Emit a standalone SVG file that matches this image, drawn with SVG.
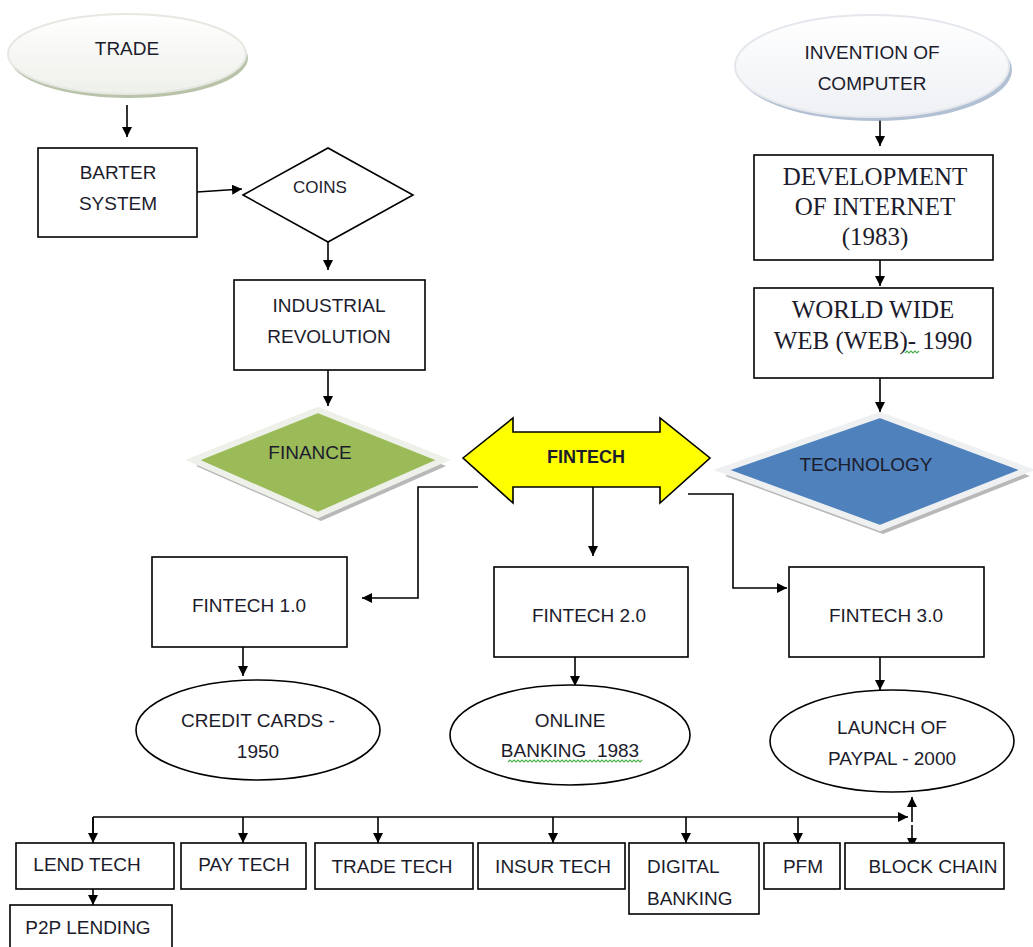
<svg xmlns="http://www.w3.org/2000/svg" width="1033" height="947" viewBox="0 0 1033 947">
<defs>
<marker id="ah" viewBox="0 0 10 10" refX="10" refY="5" markerWidth="10" markerHeight="10" markerUnits="userSpaceOnUse" orient="auto"><path d="M0,0 L10,5 L0,10 z" fill="#000"/></marker>
<linearGradient id="gTrade" x1="0" y1="0" x2="0" y2="1"><stop offset="0" stop-color="#ffffff"/><stop offset="1" stop-color="#eef0ea"/></linearGradient>
<linearGradient id="gComp" x1="0" y1="0" x2="0" y2="1"><stop offset="0" stop-color="#ffffff"/><stop offset="1" stop-color="#eef0f4"/></linearGradient>
</defs>
<style>
.t{font-family:"Liberation Sans",Arial,sans-serif;font-size:19px;fill:#1c1c2c;text-anchor:middle}
.s{font-family:"Liberation Serif","Times New Roman",serif;font-size:25px;fill:#1c1c2c;text-anchor:middle}
.b{fill:#fff;stroke:#000;stroke-width:1.6}
.c{fill:none;stroke:#000;stroke-width:1.6;marker-end:url(#ah)}
.l{fill:none;stroke:#000;stroke-width:1.6}
.sq{fill:none;stroke:#4caf50;stroke-width:1.2}
</style>
<rect width="1033" height="947" fill="#fff"/>

<g id="connectors">
<path class="c" d="M127,105 V137"/>
<path class="c" d="M197,192 L242,189"/>
<path class="c" d="M328,242 V270"/>
<path class="c" d="M328,370 V406"/>
<path class="c" d="M880,120 V146"/>
<path class="c" d="M880,260 V286"/>
<path class="c" d="M880,378 V412"/>
<path class="c" d="M478,487 H418 V598 H362"/>
<path class="c" d="M593,487 V556"/>
<path class="c" d="M688,494 H733 V588 H787"/>
<path class="c" d="M243,647 V676"/>
<path class="c" d="M575,657 V686"/>
<path class="c" d="M880,657 V690"/>
<path class="c" d="M93,817 H908"/>
<path class="l" d="M93,817 V833"/>
<path class="c" d="M93,817 V843"/>
<path class="c" d="M243,817 V843"/>
<path class="c" d="M378,817 V843"/>
<path class="c" d="M553,817 V843"/>
<path class="c" d="M686,817 V843"/>
<path class="c" d="M798,817 V843"/>
<path class="c" d="M912,822 V797"/>
<path class="c" d="M912,825 V848"/>
<path class="c" d="M93,889 V905"/>
</g>

<g id="trade">
<ellipse cx="129" cy="58" rx="119" ry="40" fill="#a8b494" opacity="0.8"/>
<ellipse cx="127" cy="54" rx="119" ry="40" fill="url(#gTrade)" stroke="#e6e8e2" stroke-width="2"/>
<text class="t" x="127" y="55">TRADE</text>
</g>

<g id="barter">
<rect class="b" x="38" y="148" width="159" height="89"/>
<text class="t" x="118" y="179">BARTER</text>
<text class="t" x="118" y="210">SYSTEM</text>
</g>

<g id="coins">
<polygon class="b" points="243,195 328,148 413,195 328,242"/>
<text class="t" x="320" y="193" style="font-size:17px">COINS</text>
</g>

<g id="industrial">
<rect class="b" x="234" y="280" width="191" height="90"/>
<text class="t" x="329" y="312">INDUSTRIAL</text>
<text class="t" x="329" y="343">REVOLUTION</text>
</g>

<g id="finance">
<polygon points="196,466 321,416 446,466 321,521" fill="#b8b8b8"/>
<polygon points="193,460 318,410 443,460 318,515" fill="#9bbb59" stroke="#eef0ea" stroke-width="6" stroke-linejoin="miter"/>
<text class="t" x="310" y="459">FINANCE</text>
</g>

<g id="fintech">
<polygon points="463,458 513,418 513,432 660,432 660,418 710,458 660,503 660,487 513,487 513,503" fill="#ffff00" stroke="#000" stroke-width="1.6" stroke-linejoin="miter"/>
<text class="t" x="586" y="463" style="font-weight:bold;font-size:18px">FINTECH</text>
</g>

<g id="technology">
<polygon points="725,476 883,421 1030,476 883,534" fill="#b8b8b8"/>
<polygon points="722,470 880,415 1027,470 880,528" fill="#4f81bd" stroke="#eef0f2" stroke-width="6"/>
<text class="t" x="866" y="471">TECHNOLOGY</text>
</g>

<g id="computer">
<ellipse cx="875" cy="70" rx="137" ry="51" fill="#9fb0c8" opacity="0.8"/>
<ellipse cx="872" cy="66" rx="137" ry="51" fill="url(#gComp)" stroke="#e4e7ec" stroke-width="2"/>
<text class="t" x="872" y="59">INVENTION OF</text>
<text class="t" x="872" y="90">COMPUTER</text>
</g>

<g id="internet">
<rect class="b" x="754" y="155" width="239" height="105"/>
<text class="s" x="875" y="185">DEVELOPMENT</text>
<text class="s" x="875" y="215">OF INTERNET</text>
<text class="s" x="875" y="245">(1983)</text>
</g>

<g id="www">
<rect class="b" x="754" y="288" width="239" height="90"/>
<text class="s" x="873" y="318">WORLD WIDE</text>
<text class="s" x="873" y="349">WEB (WEB)- 1990</text>
<path class="sq" d="M905,353 l2,-2 l2,2 l2,-2 l2,2 l2,-2 l2,2 l2,-2"/>
</g>

<g id="fintech1">
<rect class="b" x="152" y="557" width="195" height="90"/>
<text class="t" x="249" y="612">FINTECH 1.0</text>
</g>

<g id="fintech2">
<rect class="b" x="494" y="567" width="194" height="90"/>
<text class="t" x="589" y="622">FINTECH 2.0</text>
</g>

<g id="fintech3">
<rect class="b" x="789" y="567" width="195" height="90"/>
<text class="t" x="886" y="622">FINTECH 3.0</text>
</g>

<g id="creditcards">
<ellipse class="b" cx="258" cy="730" rx="122" ry="50"/>
<text class="t" x="258" y="727">CREDIT CARDS -</text>
<text class="t" x="258" y="758">1950</text>
</g>

<g id="onlinebanking">
<ellipse class="b" cx="570" cy="735" rx="120" ry="50"/>
<text class="t" x="570" y="727">ONLINE</text>
<text class="t" x="570" y="757" style="white-space:pre" xml:space="preserve">BANKING  1983</text>
<path class="sq" d="M508,762 l2,-2 l2,2 l2,-2 l2,2 l2,-2 l2,2 l2,-2 l2,2 l2,-2 l2,2 l2,-2 l2,2 l2,-2 l2,2 l2,-2 l2,2 l2,-2 l2,2 l2,-2 l2,2 l2,-2 l2,2 l2,-2 l2,2 l2,-2 l2,2 l2,-2 l2,2 l2,-2 l2,2 l2,-2 l2,2 l2,-2 l2,2 l2,-2 l2,2 l2,-2 l2,2 l2,-2 l2,2 l2,-2 l2,2 l2,-2 l2,2 l2,-2 l2,2 l2,-2 l2,2 l2,-2 l2,2 l2,-2 l2,2 l2,-2 l2,2 l2,-2 l2,2 l2,-2 l2,2 l2,-2 l2,2 l2,-2 l2,2 l2,-2 l2,2 l2,-2 l2,2 l2,-2"/>
</g>

<g id="paypal">
<ellipse class="b" cx="892" cy="741" rx="122" ry="51"/>
<text class="t" x="892" y="734">LAUNCH OF</text>
<text class="t" x="892" y="765">PAYPAL - 2000</text>
</g>

<g id="lendtech">
<rect class="b" x="16" y="843" width="158" height="46"/>
<text class="t" x="87" y="871">LEND TECH</text>
</g>
<g id="paytech">
<rect class="b" x="181" y="843" width="125" height="46"/>
<text class="t" x="244" y="871">PAY TECH</text>
</g>
<g id="tradetech">
<rect class="b" x="315" y="843" width="158" height="46"/>
<text class="t" x="392" y="873">TRADE TECH</text>
</g>
<g id="insurtech">
<rect class="b" x="478" y="843" width="147" height="46"/>
<text class="t" x="553" y="873">INSUR TECH</text>
</g>
<g id="digitalbanking">
<rect class="b" x="629" y="843" width="130" height="71"/>
<text class="t" x="647" y="873" style="text-anchor:start">DIGITAL</text>
<text class="t" x="647" y="905" style="text-anchor:start">BANKING</text>
</g>
<g id="pfm">
<rect class="b" x="764" y="843" width="76" height="46"/>
<text class="t" x="803" y="873">PFM</text>
</g>
<g id="blockchain">
<rect class="b" x="845" y="843" width="159" height="46"/>
<text class="t" x="933" y="873">BLOCK CHAIN</text>
</g>
<g id="p2p">
<rect class="b" x="10" y="905" width="162" height="60"/>
<text class="t" x="88" y="934">P2P LENDING</text>
</g>
</svg>
